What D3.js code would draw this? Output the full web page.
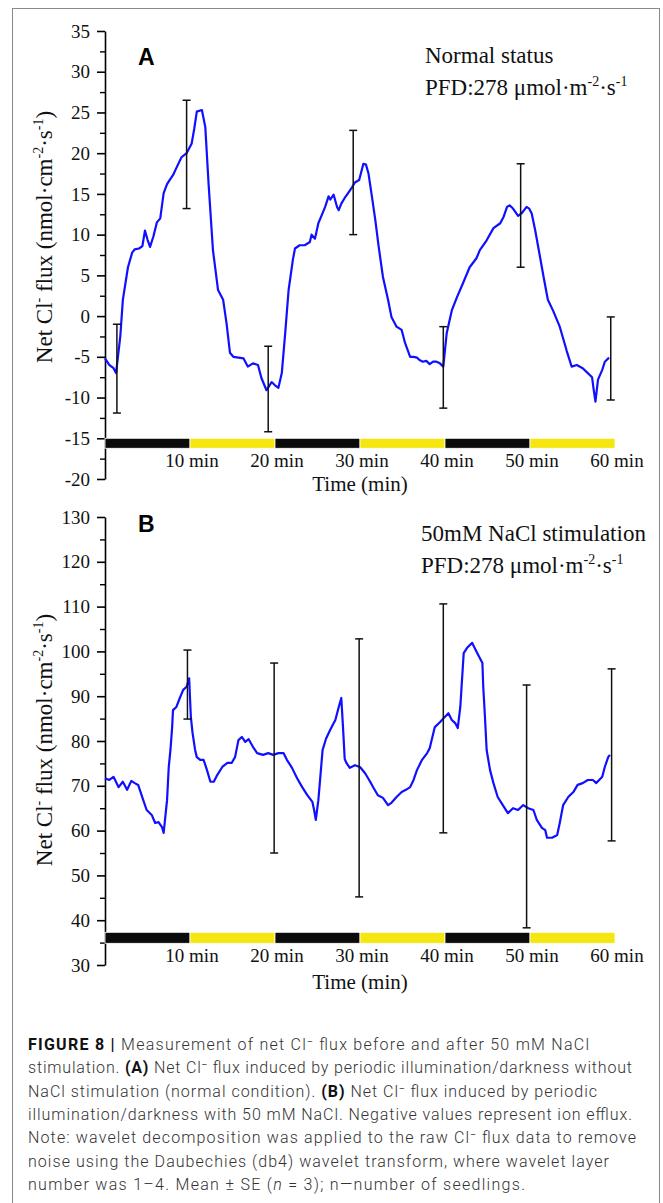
<!DOCTYPE html>
<html>
<head>
<meta charset="utf-8">
<script src="https://cdn.jsdelivr.net/npm/d3@7"></script>
<style>
  body { margin: 0; background: #fff; }
  svg { display: block; }
</style>
</head>
<body>
<div id="wrapper"></div>
<script>
/* net Cl- flux, two panels stacked + the figure caption underneath
   curves were read off the picture by eye, minutes vs nmol/cm2/s */

// panel A - normal status
const topTime = [0, 0.5, 1.0, 1.3, 1.8, 2.1, 2.7, 3.2, 3.5, 4.0, 4.4, 4.7, 5.0, 5.3, 5.7, 6.1, 6.5, 6.9, 7.3, 7.6,
  8.0, 8.4, 9.0, 9.6, 10.2, 10.5, 10.8, 11.4, 11.8, 12.2, 12.7, 13.3, 13.9, 14.3, 14.7, 15.1, 15.7, 16.3, 16.8, 17.4,
  18.0, 18.4, 19.0, 19.6, 20.0, 20.4, 20.8, 21.2, 21.6, 22.1, 22.35, 22.9, 23.5, 24.1, 24.3, 24.7, 25.1, 25.5, 25.9, 26.3,
  26.5, 26.9, 27.3, 27.5, 27.8, 28.2, 28.6, 29.0, 29.4, 29.9, 30.4, 30.7, 31.0, 31.4, 31.8, 32.2, 32.7, 33.3, 33.7, 34.3,
  34.9, 35.3, 35.9, 36.3, 36.7, 37.0, 37.4, 37.8, 38.2, 38.6, 39.0, 39.4, 39.8, 40.2, 40.8, 41.4, 42.1, 42.9, 43.7, 44.1,
  44.9, 45.7, 46.5, 46.9, 47.3, 47.6, 48.0, 48.6, 49.0, 49.6, 49.9, 50.2, 50.6, 51.0, 51.6, 52.1, 52.7, 53.5, 54.3, 54.9,
  55.5, 56.2, 56.8, 57.3, 57.5, 57.7, 58.0, 58.5, 58.8, 59.3];
const topFlux = [-5.2, -6.0, -6.4, -7.0, -2.5, 2.0, 6.0, 7.8, 8.2, 8.3, 8.6, 10.5, 9.4, 8.5, 9.8, 11.5, 12.0, 15.1, 16.2, 16.7,
  17.3, 18.2, 19.5, 20.0, 21.2, 23.0, 25.1, 25.3, 23.2, 16.0, 8.1, 3.2, 2.0, -0.9, -4.5, -5.0, -5.1, -5.2, -6.2, -5.8,
  -6.0, -7.6, -9.1, -8.1, -8.5, -8.8, -7.0, -2.1, 3.2, 6.9, 8.3, 8.7, 8.7, 9.1, 10.0, 9.5, 11.4, 12.4, 13.4, 14.7,
  14.3, 14.9, 13.4, 13.0, 13.8, 14.5, 15.1, 15.7, 16.4, 16.7, 18.7, 18.6, 17.5, 14.7, 11.8, 8.5, 4.8, 2.0, -0.1, -1.3,
  -1.7, -3.3, -5.0, -5.0, -5.1, -5.4, -5.6, -5.5, -5.9, -5.6, -5.6, -5.8, -6.2, -2.1, 0.7, 2.3, 4.0, 6.0, 7.1, 8.1,
  9.3, 10.8, 11.4, 12.2, 13.4, 13.6, 13.2, 12.3, 12.6, 13.4, 13.2, 12.6, 10.6, 8.3, 4.8, 2.0, 0.7, -1.3, -4.2, -6.2,
  -6.0, -6.4, -7.0, -7.5, -9.1, -10.5, -7.8, -6.6, -5.6, -5.1];
const topErrTime = [1.4, 9.6, 19.2, 29.2, 39.8, 48.9, 59.5];
const topErrHigh = [-1.0, 26.5, -3.7, 22.8, -1.3, 18.7, -0.1];
const topErrLow = [-11.9, 13.2, -14.2, 10.0, -11.3, 6.0, -10.3];

// panel B - 50 mM NaCl
const botTime = [0, 0.5, 1.0, 1.6, 2.1, 2.6, 3.1, 3.5, 3.9, 4.5, 4.9, 5.5, 5.9, 6.3, 6.7, 6.9, 7.3, 7.5, 7.7, 7.9,
  8.0, 8.4, 8.8, 9.2, 9.6, 9.9, 10.1, 10.3, 10.6, 10.8, 11.2, 11.6, 12.0, 12.4, 12.8, 13.2, 13.8, 14.4, 14.9, 15.3,
  15.7, 16.1, 16.5, 16.9, 17.4, 17.9, 18.6, 19.2, 19.8, 20.4, 21.0, 21.4, 22.0, 22.6, 23.2, 23.8, 24.4, 24.6, 24.8, 25.1,
  25.4, 25.6, 26.0, 26.5, 27.1, 27.5, 27.8, 28.0, 28.2, 28.4, 28.8, 29.4, 30.0, 30.6, 31.2, 31.6, 32.1, 32.7, 33.3, 33.7,
  34.3, 34.9, 35.4, 35.9, 36.3, 36.7, 37.3, 37.9, 38.2, 38.8, 39.4, 40.0, 40.4, 40.8, 41.2, 41.5, 41.8, 42.2, 42.6, 43.2,
  43.8, 44.4, 44.5, 44.7, 44.9, 45.3, 45.7, 46.2, 46.8, 47.4, 48.0, 48.6, 49.2, 49.8, 50.4, 50.8, 51.4, 51.8, 52.0, 52.6,
  53.2, 53.5, 53.9, 54.5, 55.1, 55.6, 56.2, 56.8, 57.4, 57.8, 58.5, 58.8, 59.2, 59.4];
const botFlux = [71.7, 71.3, 72.0, 69.7, 70.9, 69.1, 71.1, 70.6, 70.2, 66.8, 64.6, 63.5, 61.7, 61.9, 60.8, 59.5, 66.8, 74.2, 78.0, 83.1,
  86.9, 87.6, 89.6, 91.4, 92.1, 94.0, 85.4, 81.8, 78.0, 76.4, 75.8, 75.8, 73.5, 70.9, 70.9, 72.4, 74.2, 75.1, 75.1, 76.4,
  80.2, 80.9, 79.8, 80.4, 78.7, 77.3, 76.9, 77.3, 76.9, 77.3, 77.3, 75.8, 74.0, 71.7, 69.7, 67.9, 66.4, 64.6, 62.4, 66.8,
  73.5, 78.0, 80.5, 82.5, 84.7, 87.6, 89.6, 83.1, 76.0, 75.1, 74.0, 74.6, 74.2, 72.8, 70.9, 69.5, 67.9, 67.3, 65.7, 66.2,
  67.5, 68.6, 69.1, 69.7, 71.3, 73.5, 75.8, 77.3, 78.4, 83.1, 84.2, 85.4, 86.2, 84.7, 84.0, 82.9, 87.6, 99.6, 100.8, 101.9,
  99.6, 97.4, 92.1, 85.4, 78.0, 73.5, 70.6, 67.5, 65.7, 63.9, 65.0, 64.6, 65.7, 65.0, 64.6, 62.4, 60.6, 60.1, 58.4, 58.4,
  59.0, 61.7, 65.7, 67.5, 68.6, 70.2, 70.6, 71.3, 71.3, 70.6, 72.0, 74.2, 76.4, 76.9];
const botErrTime = [9.7, 19.9, 29.9, 39.8, 49.6, 59.6];
const botErrHigh = [100.3, 97.4, 102.8, 110.6, 92.5, 96.1];
const botErrLow = [84.9, 55.0, 45.2, 59.5, 38.3, 57.7];

// light regime strip: 10 min dark / 10 min light
const periodStart = [0, 10, 20, 30, 40, 50];
const periodEnd = [10, 20, 30, 40, 50, 60];
const periodState = ["dark", "light", "dark", "light", "dark", "light"];

const timeTicks = [10, 20, 30, 40, 50, 60];
const timeTickLabels = ["10 min", "20 min", "30 min", "40 min", "50 min", "60 min"];

const captionLines = [
  [["FIGURE 8 | ", "b"], ["Measurement of net Cl", ""], ["⁻", ""], [" flux before and after 50 mM NaCl", ""]],
  [["stimulation. ", ""], ["(A)", "b"], [" Net Cl", ""], ["⁻", ""], [" flux induced by periodic illumination/darkness without", ""]],
  [["NaCl stimulation (normal condition). ", ""], ["(B)", "b"], [" Net Cl", ""], ["⁻", ""], [" flux induced by periodic", ""]],
  [["illumination/darkness with 50 mM NaCl. Negative values represent ion efflux.", ""]],
  [["Note: wavelet decomposition was applied to the raw Cl", ""], ["⁻", ""], [" flux data to remove", ""]],
  [["noise using the Daubechies (db4) wavelet transform, where wavelet layer", ""]],
  [["number was 1–4. Mean ± SE (", ""], ["n", "i"], [" = 3); n—number of seedlings.", ""]]
];
const captionRight = [589, 632, 597, 632, 636, 609, 525]; // where each printed line stops

/* dimensions, same x for both panels */
const dimensions = {
  width: 663,
  height: 1203,
  left: 105,
  right: 615,
};

const serif = "'Liberation Serif', 'Times New Roman', serif";
const sans = "'Liberation Sans', Arial, sans-serif";

const svg = d3.select("#wrapper")
  .append("svg")
    .attr("width", dimensions.width)
    .attr("height", dimensions.height);

svg.append("rect")
  .attr("x", 12.5).attr("y", 8.5)
  .attr("width", 647).attr("height", 1210)
  .attr("fill", "none")
  .attr("stroke", "#8a8a8a")
  .attr("stroke-width", 1);

const xScale = d3.scaleLinear()
  .domain([0, 60])
  .range([dimensions.left, dimensions.right]);

const panels = [
  {
    letter: "A", time: topTime, flux: topFlux,
    errTime: topErrTime, errHigh: topErrHigh, errLow: topErrLow,
    domain: [-20, 35], range: [479, 31], step: 5,
    stripTop: -15, stripH: 10,
    tickBase: 467, titleBase: 491, yTitleMid: 237,
    letterY: 65, noteX: 425, noteY: 63,
    note: "Normal status",
  },
  {
    letter: "B", time: botTime, flux: botFlux,
    errTime: botErrTime, errHigh: botErrHigh, errLow: botErrLow,
    domain: [30, 130], range: [965, 517], step: 10,
    stripTop: 37.3, stripH: 11,
    tickBase: 962, titleBase: 989, yTitleMid: 740,
    letterY: 532, noteX: 421, noteY: 541,
    note: "50mM NaCl stimulation",
  },
];

panels.forEach(function(p) {
  const yScale = d3.scaleLinear().domain(p.domain).range(p.range);
  const g = svg.append("g");

  // y axis: labelled majors + short minors in between
  const majors = d3.range(p.domain[0], p.domain[1] + 0.01, p.step);
  const minors = d3.range(p.domain[0] + p.step / 2, p.domain[1], p.step);

  const yAxis = g.append("g")
    .attr("transform", `translate(${dimensions.left},0)`)
    .call(d3.axisLeft(yScale)
      .tickValues(majors)
      .tickFormat((d) => String(d)) // plain hyphen like the original, not the unicode minus
      .tickSize(8).tickSizeOuter(0).tickPadding(7));
  yAxis.selectAll("path, line").attr("stroke", "#000").attr("stroke-width", 1.6);
  yAxis.selectAll("text")
    .attr("fill", "#111")
    .style("font-family", serif)
    .style("font-size", "19px");

  const yMinor = g.append("g")
    .attr("transform", `translate(${dimensions.left},0)`)
    .call(d3.axisLeft(yScale).tickValues(minors).tickSize(5).tickFormat(""));
  yMinor.select(".domain").remove();
  yMinor.selectAll("line").attr("stroke", "#000").attr("stroke-width", 1.4);

  // dark / light strip
  const stripY = yScale(p.stripTop);
  g.selectAll(".period")
    .data(periodStart)
    .enter().append("rect")
      .attr("x", (d) => xScale(d))
      .attr("y", stripY)
      .attr("width", (d, i) => xScale(periodEnd[i]) - xScale(d))
      .attr("height", p.stripH)
      .attr("fill", (d, i) => periodState[i] == "dark" ? "#0b0b0b" : "#f4e60e")
      .attr("stroke", "#fff")
      .attr("stroke-width", 0.8);

  // x labels (no x axis line in the original)
  g.selectAll(".xlab")
    .data(timeTicks)
    .enter().append("text")
      .attr("x", (d) => xScale(d) + 2)
      .attr("y", p.tickBase)
      .attr("text-anchor", "middle")
      .attr("fill", "#111")
      .style("font-family", serif)
      .style("font-size", "19px")
      .text((d, i) => timeTickLabels[i]);

  g.append("text")
    .attr("x", xScale(30))
    .attr("y", p.titleBase)
    .attr("text-anchor", "middle")
    .attr("fill", "#111")
    .style("font-family", serif)
    .style("font-size", "21px")
    .text("Time (min)");

  // y title with superscripts
  const yt = g.append("text")
    .attr("transform", `translate(52,${p.yTitleMid}) rotate(-90)`)
    .attr("text-anchor", "middle")
    .attr("fill", "#111")
    .style("font-family", serif)
    .style("font-size", "23px");
  yt.append("tspan").text("Net Cl");
  yt.append("tspan").attr("dy", -9).style("font-size", "14px").text("-");
  yt.append("tspan").attr("dy", 9).text(" flux (nmol·cm");
  yt.append("tspan").attr("dy", -9).style("font-size", "14px").text("-2");
  yt.append("tspan").attr("dy", 9).text("·s");
  yt.append("tspan").attr("dy", -9).style("font-size", "14px").text("-1");
  yt.append("tspan").attr("dy", 9).text(")");

  // the flux curve
  const line = d3.line()
    .x((d, i) => xScale(p.time[i]))
    .y((d) => yScale(d));
  g.append("path")
    .datum(p.flux)
    .attr("d", line)
    .attr("fill", "none")
    .attr("stroke", "#1010ff")
    .attr("stroke-width", 2.2)
    .attr("stroke-linejoin", "round");

  // error bars
  const cap = 4;
  const eb = g.selectAll(".err")
    .data(p.errTime)
    .enter().append("g")
      .attr("stroke", "#111")
      .attr("stroke-width", 1.5);
  eb.append("line")
    .attr("x1", (d) => xScale(d)).attr("x2", (d) => xScale(d))
    .attr("y1", (d, i) => yScale(p.errHigh[i])).attr("y2", (d, i) => yScale(p.errLow[i]));
  eb.append("line")
    .attr("x1", (d) => xScale(d) - cap).attr("x2", (d) => xScale(d) + cap)
    .attr("y1", (d, i) => yScale(p.errHigh[i])).attr("y2", (d, i) => yScale(p.errHigh[i]));
  eb.append("line")
    .attr("x1", (d) => xScale(d) - cap).attr("x2", (d) => xScale(d) + cap)
    .attr("y1", (d, i) => yScale(p.errLow[i])).attr("y2", (d, i) => yScale(p.errLow[i]));

  // panel letter and condition note
  g.append("text")
    .attr("x", 138).attr("y", p.letterY)
    .attr("fill", "#000")
    .style("font-family", sans)
    .style("font-weight", "bold")
    .style("font-size", "23px")
    .text(p.letter);

  g.append("text")
    .attr("x", p.noteX).attr("y", p.noteY)
    .attr("fill", "#111")
    .style("font-family", serif)
    .style("font-size", "23px")
    .text(p.note);

  const pfd = g.append("text")
    .attr("x", p.noteX).attr("y", p.noteY + 32)
    .attr("fill", "#111")
    .style("font-family", serif)
    .style("font-size", "23px");
  pfd.append("tspan").text("PFD:278 μmol·m");
  pfd.append("tspan").attr("dy", -9).style("font-size", "14px").text("-2");
  pfd.append("tspan").attr("dy", 9).text("·s");
  pfd.append("tspan").attr("dy", -9).style("font-size", "14px").text("-1");
});

/* caption */
const cap = svg.append("g")
  .style("font-family", "Roboto, 'Liberation Sans', sans-serif")
  .style("font-size", "16px")
  .style("font-weight", "300")
  .attr("fill", "#333");

captionLines.forEach(function(parts, i) {
  const t = cap.append("text")
    .attr("x", 28)
    .attr("y", 1050 + i * 23.3)
    .attr("textLength", captionRight[i] - 28)
    .attr("lengthAdjust", "spacing");
  parts.forEach(function(s) {
    const ts = t.append("tspan").text(s[0]);
    if (s[1] == "b") ts.style("font-weight", "bold").attr("fill", "#111");
    if (s[1] == "i") ts.style("font-style", "italic");
  });
});
</script>
</body>
</html>
